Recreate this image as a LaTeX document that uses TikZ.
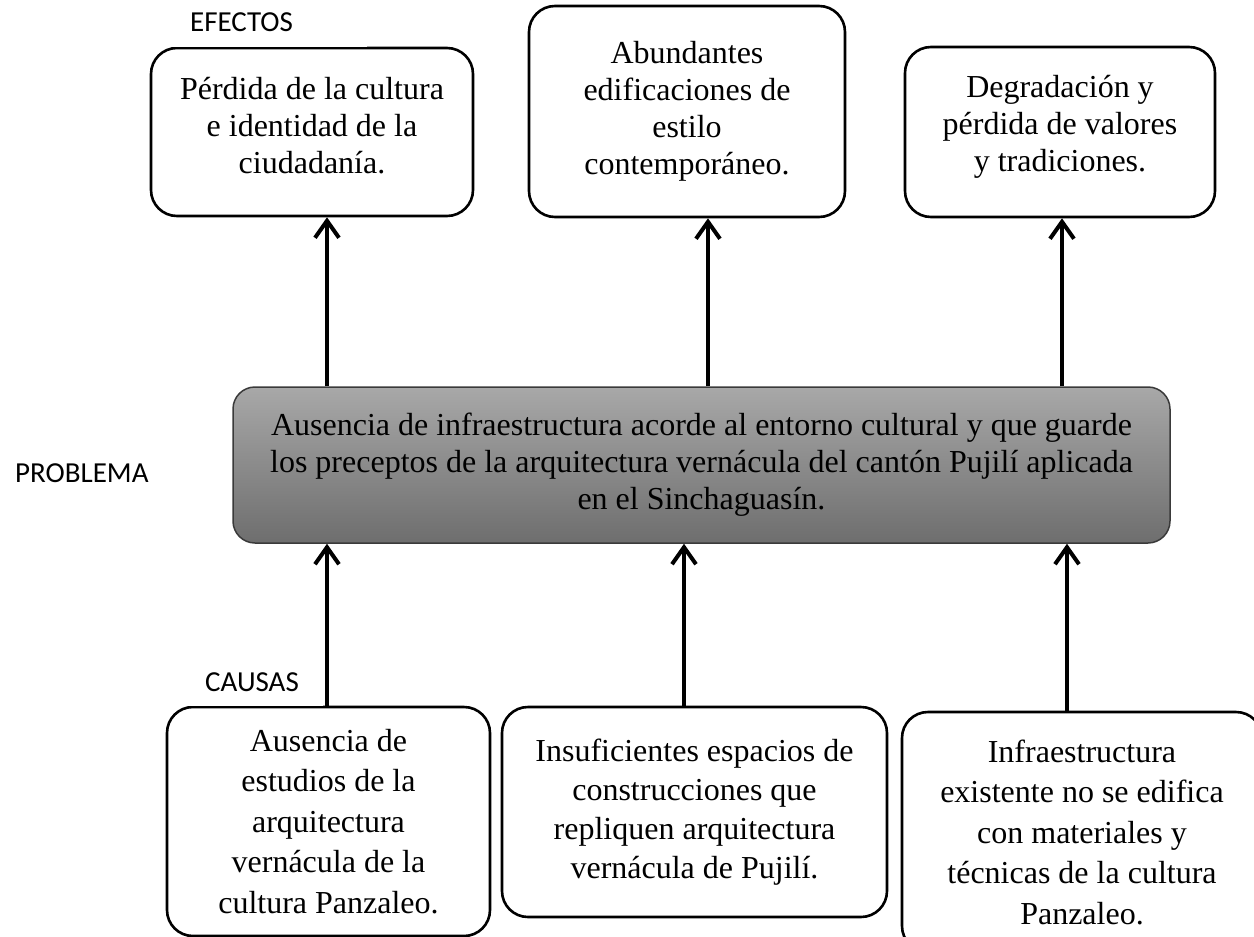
\documentclass[tikz,border=0pt]{standalone}
\usepackage{fontspec}
\setmainfont{Liberation Serif}
\newfontfamily\labfont{Carlito}
\usetikzlibrary{arrows.meta}
\definecolor{topgray}{HTML}{A8A8A8}
\definecolor{botgray}{HTML}{6E6E6E}
\definecolor{edgegray}{HTML}{3A3A3A}
\begin{document}
\begin{tikzpicture}[x=1pt,y=-1pt,
  box/.style={draw=black, line width=2.6pt, rounded corners=26pt, align=center, inner sep=0pt},
  txt/.style={font=\fontsize{32}{37}\selectfont},
  txtb/.style={font=\fontsize{32}{40.5}\selectfont},
  lab/.style={font=\labfont\fontsize{29}{33}\selectfont, inner sep=0pt},
  arr/.style={line width=4pt, -{Straight Barb[length=17pt,width=24pt]}}]
\useasboundingbox (0,0) rectangle (1254,937);
% effects
\node[box, minimum width=322pt, minimum height=168pt] (A) at (312,132) {};
\node[txt, align=center, inner sep=0pt] (At) at (312,126) {Pérdida de la cultura\\e identidad de la\\ciudadanía.};
\node[box, txt, minimum width=316pt, minimum height=211pt] (B) at (687,111.5) {Abundantes\\edificaciones de\\estilo\\contemporáneo.};
\node[box, minimum width=310pt, minimum height=170pt] (C) at (1060,132) {};
\node[txt, align=center, inner sep=0pt] (Ct) at (1060,127) {Degradación y\\pérdida de valores\\y tradiciones.};
% problem
\node[draw=edgegray, line width=1.5pt, rounded corners=22pt, top color=topgray, bottom color=botgray,
      txt, align=center, inner sep=0pt, minimum width=937pt, minimum height=156pt] (P) at (701.5,465)
  {Ausencia de infraestructura acorde al entorno cultural y que guarde\\los preceptos de la arquitectura vernácula del cantón Pujilí aplicada\\en el Sinchaguasín.};
% causes
\node[box, txtb, minimum width=323pt, minimum height=229pt] (D) at (328.5,821.5) {Ausencia de\\estudios de la\\arquitectura\\vernácula de la\\cultura Panzaleo.};
\node[box, font=\fontsize{32}{39}\selectfont, minimum width=385pt, minimum height=210pt] (E) at (694.5,812) {Insuficientes espacios de\\construcciones que\\repliquen arquitectura\\vernácula de Pujilí.};
\node[box, txtb, minimum width=360pt, minimum height=240pt] (F) at (1082,832) {Infraestructura\\existente no se edifica\\con materiales y\\técnicas de la cultura\\Panzaleo.};
% white label backgrounds covering part of the box borders
\fill[white] (140,0) rectangle (367,47.4);
\fill[white] (160,640) rectangle (323,706.4);
% labels
\node[lab, anchor=west] (le) at (190,22) {EFECTOS};
\node[lab, anchor=west] (lp) at (15,473) {PROBLEMA};
\node[lab, anchor=west] (lc) at (205,682) {CAUSAS};
% arrow x positions
\coordinate (xa) at (327,0);
\coordinate (xb) at (708,0);
\coordinate (xc) at (1062,0);
\coordinate (xd) at (327,0);
\coordinate (xe) at (684,0);
\coordinate (xf) at (1067,0);
% connectors
\draw[arr] (P.north -| xa) -- (A.south -| xa);
\draw[arr] (P.north -| xb) -- (B.south -| xb);
\draw[arr] (P.north -| xc) -- (C.south -| xc);
\draw[arr] (D.north -| xd) -- (P.south -| xd);
\draw[arr] (E.north -| xe) -- (P.south -| xe);
\draw[arr] (F.north -| xf) -- (P.south -| xf);
\end{tikzpicture}
\end{document}
